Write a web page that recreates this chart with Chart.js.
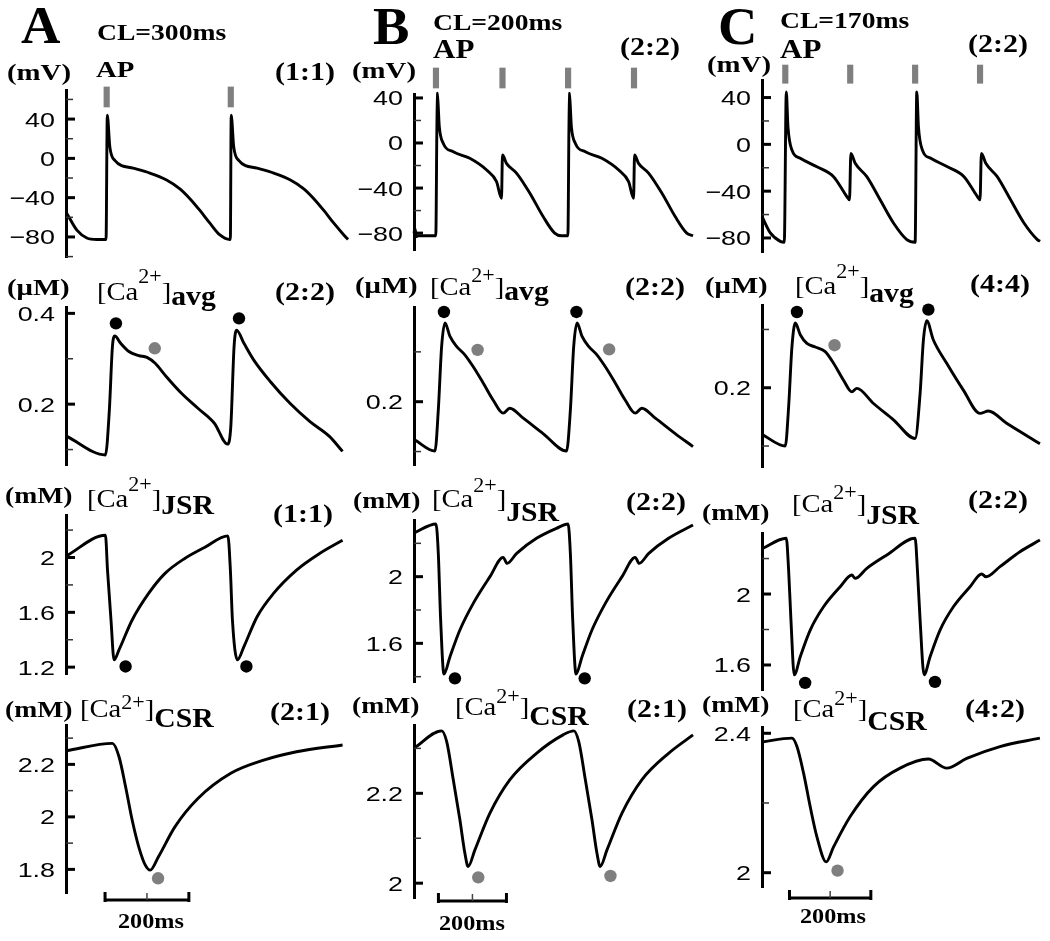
<!DOCTYPE html>
<html>
<head>
<meta charset="utf-8">
<script src="https://cdn.jsdelivr.net/npm/chart.js@4.4.1/dist/chart.umd.min.js"></script>
<style>
  html, body { margin: 0; padding: 0; background: #fff; }
  #fig { position: relative; width: 1050px; height: 941px; overflow: hidden; background: #fff; }
  #fig canvas { position: absolute; }
  .lb { position: absolute; font-family: "Liberation Serif", "Times New Roman", serif; font-weight: bold;
        color: #000; white-space: nowrap; line-height: 1; transform-origin: 0 0; }
  .ca { font-weight: normal; }
  .sup, .sub { position: relative; }
</style>
</head>
<body>
<div id="fig"></div>
<script>
// ---- data: [time ms, value] ----
// column A, CL = 300 ms
const stimA = [97.5, 395];
const apA = [[2,-56],[26,-73],[50,-81],[74,-82.6],[96,-82.6],[99,44],[105,12],[117,-2],[161,-10],[201,-15],[241,-22],[273,-31],[297,-41],[321,-53],[345,-66],[369,-78],[393,-82.6],[394,-82.6],[396,44],[402,12],[414,-2],[458,-10],[498,-15],[538,-22],[570,-31],[594,-41],[618,-53],[642,-66],[666,-78],[676,-82.6]];
const caA = [[2,0.129],[96,0.088],[105.5,0.187],[113,0.327],[119,0.35],[133,0.334],[153,0.316],[177,0.307],[197,0.303],[217,0.29],[241,0.264],[281,0.224],[321,0.191],[361,0.158],[393,0.112],[401,0.15],[409,0.327],[415,0.363],[433,0.334],[457,0.297],[497,0.25],[545,0.202],[593,0.162],[641,0.129],[673,0.096]];
const caPeakA = [[121.5,0.378],[421,0.389]];
const caShoulderA = [[216,0.323]];
const jsrA = [[0,2.01],[96,2.162],[101,1.908],[109.5,1.544],[117,1.253],[129,1.326],[161,1.544],[201,1.738],[241,1.884],[289,1.993],[337,2.073],[394,2.158],[400,1.908],[405,1.544],[417,1.253],[433,1.35],[465,1.568],[505,1.738],[561,1.908],[617,2.029],[673,2.126]];
const jsrMinA = [[145,1.205],[439,1.205]];
const csrA = [[1,2.252],[113,2.28],[129,2.229],[145,2.115],[161,1.988],[177,1.886],[193,1.816],[205,1.797],[225,1.848],[265,1.962],[321,2.07],[401,2.166],[481,2.216],[561,2.248],[673,2.274]];
const csrMinA = [[224,1.766]];

// column B, CL = 200 ms
const stimB = [66.5, 268, 466.7, 666.3];
const apB = [[0,-80],[3,-76],[7,-83],[12,-82.4],[66,-82.4],[70.6,43.9],[76.7,14.3],[88.8,-0.4],[119,-7.8],[169,-13.6],[220,-24],[250,-34.3],[265,-49],[268,-10.7],[280,-18.1],[311,-26.9],[351,-44.6],[391,-65.3],[426,-80],[447,-82.4],[466,-82.4],[470.6,43.9],[476.7,14.3],[488.8,-0.4],[519,-7.8],[569,-13.6],[620,-24],[650,-34.3],[665,-49],[668,-10.7],[680,-18.1],[711,-26.9],[751,-44.6],[791,-65.3],[826,-80],[845,-82.4]];
const caB = [[3,0.123],[63.5,0.101],[73.6,0.183],[83.7,0.311],[93.8,0.358],[109,0.331],[129,0.311],[154,0.294],[179.5,0.27],[210,0.237],[240,0.203],[270,0.177],[290,0.187],[331,0.167],[391,0.136],[462,0.101],[473.6,0.183],[483.7,0.311],[493.8,0.358],[509,0.331],[529,0.311],[554,0.294],[579.5,0.27],[610,0.237],[640,0.203],[670,0.177],[690,0.187],[731,0.167],[791,0.136],[845,0.11]];
const caPeakB = [[90.7,0.38],[492,0.38]];
const caShoulderB = [[192.6,0.304],[591,0.305]];
const jsrB = [[0,2.262],[66.5,2.316],[73.6,2.14],[80.7,1.74],[90.7,1.416],[109,1.52],[139,1.68],[179.5,1.84],[230,2.0],[270,2.116],[282,2.08],[311,2.14],[371,2.23],[431.5,2.29],[466.7,2.316],[473.6,2.14],[480.7,1.74],[490.7,1.416],[509,1.52],[539,1.68],[579.5,1.84],[630,2.0],[670,2.116],[682,2.08],[711,2.14],[771,2.23],[845,2.31]];
const jsrMinB = [[124,1.39],[517,1.39]];
const csrB = [[0,2.3],[83.7,2.339],[99,2.315],[119,2.23],[139,2.141],[154,2.067],[164,2.037],[184.5,2.074],[230,2.156],[290,2.23],[371,2.289],[451.6,2.33],[484,2.339],[499,2.315],[519,2.23],[539,2.141],[554,2.067],[564,2.037],[584.5,2.074],[630,2.156],[690,2.23],[771,2.289],[845,2.33]];
const csrMinB = [[194.6,2.013],[595,2.016]];

// column C, CL = 170 ms
const stimC = [61, 231, 401, 571];
const apC = [[0,-61.6],[21.8,-75.7],[47.9,-82.9],[58.4,-83.7],[63.6,44.8],[68,15],[78.4,-4.8],[100.2,-11.9],[143.8,-19.1],[187.4,-27.6],[222.2,-44.6],[229.2,-47.4],[232.7,-7.7],[244,-16.2],[274.5,-27.6],[309.4,-47.4],[344.3,-67.2],[379.2,-81.4],[401,-83.7],[405.3,44.8],[409.7,15],[420,-4.8],[442,-11.9],[485.5,-19.1],[529,-27.6],[564,-44.6],[571,-47.4],[574.5,-7.7],[586,-16.2],[616,-27.6],[651,-47.4],[686,-67.2],[721,-81.4],[728,-82.9]];
const caC = [[0,0.12],[61,0.1],[69.7,0.167],[78.4,0.27],[87.1,0.311],[100.2,0.291],[117.6,0.276],[139.4,0.27],[165.5,0.262],[187.4,0.242],[213.5,0.213],[235.3,0.193],[248.4,0.199],[292,0.173],[344.3,0.145],[401,0.113],[414,0.19],[422.7,0.282],[431.4,0.315],[448.8,0.282],[483.7,0.242],[527.3,0.196],[570.9,0.156],[592.7,0.16],[640.6,0.139],[727.8,0.104]];
const caPeakC = [[91.5,0.33],[435.7,0.334]];
const caShoulderC = [[190,0.273]];
const jsrC = [[0,2.255],[63.6,2.314],[69.7,2.135],[75.8,1.854],[84.5,1.544],[100.2,1.647],[126.3,1.797],[161.2,1.928],[204.8,2.041],[235.3,2.107],[244,2.088],[274.5,2.145],[326.8,2.22],[401,2.314],[407,2.135],[414,1.854],[424.5,1.544],[440.2,1.647],[466.3,1.797],[501.2,1.928],[544.8,2.041],[575.3,2.113],[586.6,2.097],[623.2,2.154],[675.5,2.238],[727.8,2.304]];
const jsrMinC = [[113,1.499],[453,1.505]];
const csrC = [[0,2.375],[78.4,2.386],[91.5,2.362],[109,2.285],[126.3,2.189],[143.8,2.103],[168.2,2.031],[187.4,2.074],[231,2.161],[292,2.247],[361.7,2.3],[435.7,2.326],[483.7,2.3],[536,2.328],[623.2,2.362],[727.8,2.386]];
const csrMinC = [[197.8,2.006]];

// stimulus marker span (mV, drawn above the trace) and scale bars (ms)
const stimSpan = {A: [52.3, 72.7], B: [48.8, 66.6], C: [52.2, 67.8]};
const barA = [95, 299], barB = [74, 280], barC = [72, 285];

// tick values
const apMajor = [40, 0, -40, -80];
const apMinorA = [60, 20, -20, -60, -100], apMinorBC = [20, -20, -60];
const caMajorA = [0.4, 0.2], caMajorBC = [0.2], caMinor = [0.3, 0.1];
const jsrMajorA = [2, 1.6, 1.2], jsrMajorBC = [2, 1.6], jsrMinorAB = [2.2, 1.8, 1.4], jsrMinorC = [2.2, 1.8];
const csrMajorA = [2.2, 2, 1.8], csrMinorA = [2.3, 2.1, 1.9];
const csrMajorB = [2.2, 2], csrMinorB = [2.3, 2.1];
const csrMajorC = [2.4, 2], csrMinorC = [2.2];

// ---- layout ----
const fig = document.getElementById('fig');
const cols = {
  A: {left: 0, axis: 66, right: 348, tMax: 676},
  B: {left: 350, axis: 414, right: 693, tMax: 845},
  C: {left: 700, axis: 762, right: 1040, tMax: 728}
};

const panels = [
  {col: 'A', top: 90, bottom: 257, min: -100.4, max: 69.6, major: apMajor, minor: apMinorA, series: apA, stim: stimA},
  {col: 'B', top: 94, bottom: 250, min: -95, max: 43.5, major: apMajor, minor: apMinorBC, series: apB, stim: stimB},
  {col: 'C', top: 80, bottom: 252, min: -92, max: 55, major: apMajor, minor: apMinorBC, series: apC, stim: stimC},
  {col: 'A', top: 307, bottom: 465, min: 0.066, max: 0.414, major: caMajorA, minor: caMinor, series: caA, black: caPeakA, gray: caShoulderA},
  {col: 'B', top: 307, bottom: 465, min: 0.073, max: 0.39, major: caMajorBC, minor: caMinor, series: caB, black: caPeakB, gray: caShoulderB},
  {col: 'C', top: 305, bottom: 467, min: 0.064, max: 0.342, major: caMajorBC, minor: caMinor, series: caC, black: caPeakC, gray: caShoulderC},
  {col: 'A', top: 515, bottom: 674, min: 1.15, max: 2.31, major: jsrMajorA, minor: jsrMinorAB, series: jsrA, black: jsrMinA},
  {col: 'B', top: 520, bottom: 682, min: 1.368, max: 2.34, major: jsrMajorBC, minor: jsrMinorAB, series: jsrB, black: jsrMinB},
  {col: 'C', top: 533, bottom: 690, min: 1.459, max: 2.344, major: jsrMajorBC, minor: jsrMinorC, series: jsrC, black: jsrMinC},
  {col: 'A', top: 725, bottom: 893, min: 1.71, max: 2.35, major: csrMajorA, minor: csrMinorA, series: csrA, gray: csrMinA, bar: barA, barY: 900},
  {col: 'B', top: 725, bottom: 898, min: 1.967, max: 2.352, major: csrMajorB, minor: csrMinorB, series: csrB, gray: csrMinB, bar: barB, barY: 901},
  {col: 'C', top: 727, bottom: 887, min: 1.959, max: 2.418, major: csrMajorC, minor: csrMinorC, series: csrC, gray: csrMinC, bar: barC, barY: 898}
];

function xy(arr) { return arr.map(p => ({x: p[0], y: p[1]})); }

function dots(arr, color) {
  return {data: xy(arr), showLine: false, pointRadius: 6.2, pointBackgroundColor: color,
          pointBorderWidth: 0, borderColor: color, clip: false};
}

function makePanel(p) {
  const c = cols[p.col];
  const padTop = 40, padBottom = p.bar ? 45 : 14;
  const h = p.bottom - p.top + padTop + padBottom;
  const top = p.top - padTop;
  const cv = document.createElement('canvas');
  cv.width = 350; cv.height = h;
  cv.style.left = c.left + 'px';
  cv.style.top = top + 'px';
  fig.appendChild(cv);

  const ds = [{data: xy(p.series), borderColor: '#000', borderWidth: 2.9, pointRadius: 0,
               cubicInterpolationMode: 'monotone', clip: false}];
  if (p.black) ds.push(dots(p.black, '#000'));
  if (p.gray) ds.push(dots(p.gray, '#7f7f7f'));
  if (p.stim) {
    // stimulus pulses as short floating bars above the trace
    ds.push({type: 'bar', data: p.stim.map(t => ({x: t, y: stimSpan[p.col]})),
             backgroundColor: '#7f7f7f', borderWidth: 0, barThickness: 5.5, clip: false});
  }

  // short ticks pointing into the plot, and stretched tick labels, like the original
  const tickMarks = {
    id: 'tickMarks',
    afterDraw(chart) {
      const s = chart.scales.y, ctx = chart.ctx, x0 = chart.chartArea.left;
      ctx.save();
      ctx.strokeStyle = '#000';
      ctx.lineWidth = 3;
      p.major.forEach(v => {
        const y = s.getPixelForValue(v);
        ctx.beginPath(); ctx.moveTo(x0, y); ctx.lineTo(x0 + 9, y); ctx.stroke();
      });
      ctx.lineWidth = 1.5;
      ctx.strokeStyle = '#333';
      p.minor.forEach(v => {
        const y = s.getPixelForValue(v);
        ctx.beginPath(); ctx.moveTo(x0, y); ctx.lineTo(x0 + 7, y); ctx.stroke();
      });
      ctx.fillStyle = '#000';
      ctx.font = '21px "Liberation Sans", Arial, sans-serif';
      ctx.textAlign = 'right';
      ctx.textBaseline = 'alphabetic';
      p.major.forEach(v => {
        const y = s.getPixelForValue(v);
        ctx.save();
        ctx.translate(x0 - 11, y + 7.5);
        ctx.scale(1.28, 1);
        ctx.fillText(String(v).replace('-', '\u2212'), 0, 0);
        ctx.restore();
      });
      ctx.restore();
    }
  };

  const scaleBar = {
    id: 'scaleBar',
    afterDraw(chart) {
      if (!p.bar) return;
      const xs = chart.scales.x, ctx = chart.ctx;
      const x0 = xs.getPixelForValue(p.bar[0]), x1 = xs.getPixelForValue(p.bar[1]);
      const xm = (x0 + x1) / 2, y = p.barY - top;
      ctx.save();
      ctx.strokeStyle = '#000';
      ctx.lineWidth = 3;
      ctx.beginPath();
      ctx.moveTo(x0, y); ctx.lineTo(x1, y);
      ctx.moveTo(x0, y - 8); ctx.lineTo(x0, y + 2);
      ctx.moveTo(x1, y - 8); ctx.lineTo(x1, y + 2);
      ctx.stroke();
      ctx.lineWidth = 1.5;
      ctx.strokeStyle = '#444';
      ctx.beginPath(); ctx.moveTo(xm, y - 7); ctx.lineTo(xm, y); ctx.stroke();
      ctx.restore();
    }
  };

  new Chart(cv, {
    type: 'line',
    data: {datasets: ds},
    options: {
      responsive: false,
      animation: false,
      events: [],
      layout: {padding: {left: 0, right: c.left + 350 - c.right, top: padTop, bottom: padBottom}},
      plugins: {legend: {display: false}, tooltip: {enabled: false}},
      scales: {
        x: {type: 'linear', min: 0, max: c.tMax, display: false, offset: false},
        y: {
          min: p.min, max: p.max, bounds: 'data',
          afterFit: s => { s.width = c.axis - c.left; },
          afterBuildTicks: s => { s.ticks = p.major.concat(p.minor).sort((a, b) => a - b).map(v => ({value: v})); },
          grid: {display: true, drawOnChartArea: false, drawTicks: false},
          border: {display: true, color: '#000', width: 3},
          ticks: {display: false, autoSkip: false}
        }
      }
    },
    plugins: [tickMarks, scaleBar]
  });
}

panels.forEach(makePanel);

// ---- text ----
function addLabel(html, x, base, size, sx) {
  const d = document.createElement('div');
  d.className = 'lb';
  d.style.left = x + 'px';
  d.style.top = (base - 0.8375 * size) + 'px';
  d.style.fontSize = size + 'px';
  d.style.transform = 'scaleX(' + sx + ')';
  d.innerHTML = html;
  fig.appendChild(d);
}

function caLabel(sub, x, base, raise, drop) {
  const html = '<span class="ca">[Ca<span class="sup" style="font-size:20px;top:-' + raise + 'px">2+</span>]</span>' +
               '<span class="sub" style="font-size:27px;top:' + drop + 'px">' + sub + '</span>';
  addLabel(html, x, base, 26, 1.1);
}

addLabel('A', 21, 44, 52, 1.05);
addLabel('B', 373, 45, 52, 1.05);
addLabel('C', 718, 45, 52, 1.05);

addLabel('CL=300ms', 96.7, 40, 23, 1.2);
addLabel('CL=200ms', 433.3, 30, 23, 1.2);
addLabel('CL=170ms', 780, 28.3, 23, 1.2);
addLabel('AP', 96, 77.3, 24, 1.2);
addLabel('AP', 433.3, 58.3, 27, 1.15);
addLabel('AP', 780, 58.3, 27, 1.15);

addLabel('(mV)', 6.7, 80, 24, 1.2);
addLabel('(mV)', 351.7, 78.3, 24, 1.2);
addLabel('(mV)', 706.7, 71.7, 24, 1.2);
addLabel('(μM)', 6.7, 295, 24, 1.2);
addLabel('(μM)', 355, 293.3, 24, 1.2);
addLabel('(μM)', 705, 293.3, 24, 1.2);
addLabel('(mM)', 5, 503.3, 24, 1.15);
addLabel('(mM)', 353.3, 508.3, 24, 1.15);
addLabel('(mM)', 701.7, 520, 24, 1.15);
addLabel('(mM)', 5, 716.7, 24, 1.15);
addLabel('(mM)', 351.7, 713.3, 24, 1.15);
addLabel('(mM)', 701.7, 711.7, 24, 1.15);

addLabel('(1:1)', 275, 80, 25, 1.2);
addLabel('(2:2)', 620, 55, 25, 1.2);
addLabel('(2:2)', 968, 51.7, 25, 1.2);
addLabel('(2:2)', 275, 300, 25, 1.2);
addLabel('(2:2)', 625, 295, 25, 1.2);
addLabel('(4:4)', 970, 291.7, 25, 1.2);
addLabel('(1:1)', 273, 521.7, 25, 1.2);
addLabel('(2:2)', 626, 510, 25, 1.2);
addLabel('(2:2)', 968, 508.3, 25, 1.2);
addLabel('(2:1)', 270, 720, 25, 1.2);
addLabel('(2:1)', 626.7, 716.7, 25, 1.2);
addLabel('(4:2)', 965, 716.7, 25, 1.2);

caLabel('avg', 96.7, 300, 17, 5);
caLabel('avg', 430, 295, 13, 5);
caLabel('avg', 795, 293.3, 16, 8);
caLabel('JSR', 87.3, 506.7, 16, 7);
caLabel('JSR', 431.7, 506.7, 15, 14);
caLabel('JSR', 791.7, 511.7, 13, 12);
caLabel('CSR', 80, 716.7, 8, 10);
caLabel('CSR', 455, 715, 12, 10);
caLabel('CSR', 793.3, 716.7, 12, 13);

addLabel('200ms', 118, 928, 22, 1.1);
addLabel('200ms', 439.3, 930, 22, 1.1);
addLabel('200ms', 800, 923.3, 22, 1.1);
</script>
</body>
</html>
